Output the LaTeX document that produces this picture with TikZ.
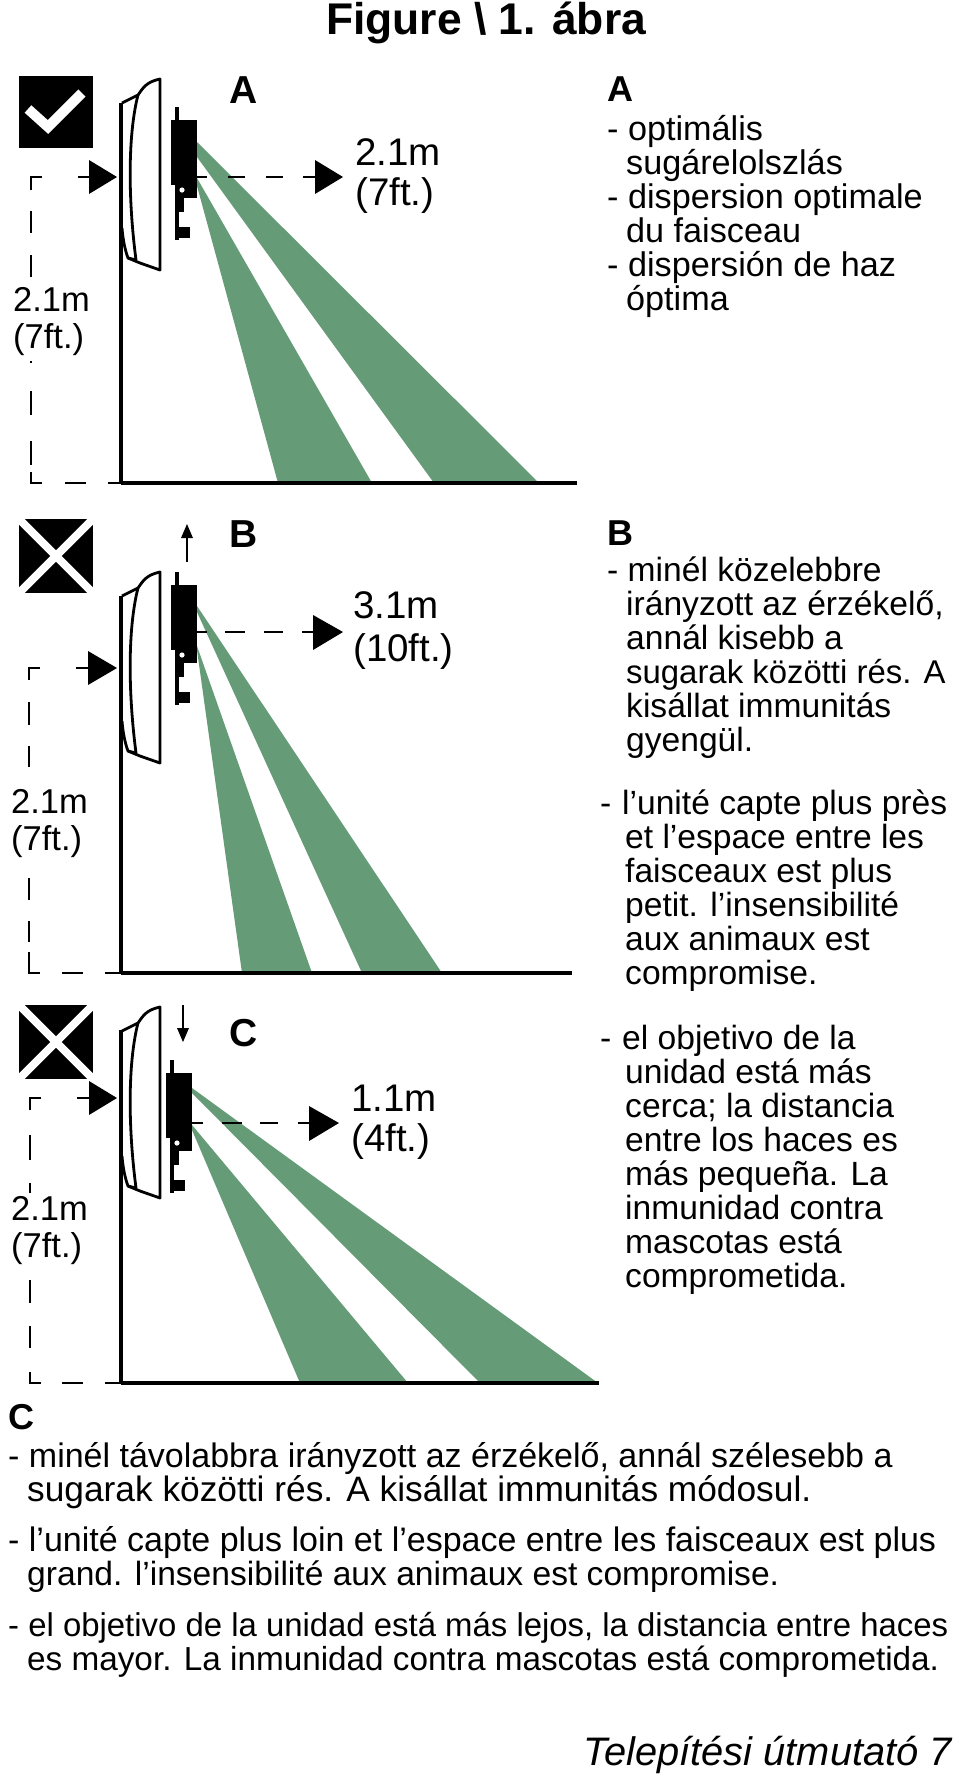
\documentclass[tikz,border=0pt]{standalone}
\usepackage{fontspec}
\setmainfont{Liberation Sans}
\definecolor{beam}{HTML}{659B77}
\newcommand{\hg}{\hspace*{19pt}}
\newcommand{\hgg}{\hspace*{25pt}}
\newcommand{\dsh}{\makebox[22pt][l]{-}}
\newcommand{\fsz}[1]{\fontsize{#1}{34}\selectfont}
\tikzset{
  body/.style={font=\fontsize{33.6}{34}\selectfont, anchor=north west, inner sep=0pt, align=left},
  head/.style={font=\fontsize{36}{38}\selectfont\bfseries, anchor=west, inner sep=0pt},
  letter/.style={font=\fontsize{39}{40}\selectfont\bfseries, anchor=center, inner sep=0pt},
  dim/.style={font=\fontsize{38.5}{40}\selectfont, anchor=west, inner sep=0pt, align=left},
  dimsmall/.style={font=\fontsize{34.5}{37}\selectfont, anchor=west, inner sep=0pt, align=left},
  dashln/.style={line width=2.8pt},
  wall/.style={line width=3.8pt},
  hous/.style={line width=2.8pt, line join=round},
  tri/.style={fill=black},
}
\newcommand{\housing}[1]{%
  \begin{scope}[yshift=-#1pt]
    \draw[hous] (122,103) -- (138,95) .. controls (143,88) and (146,82) .. (160,79) -- (160,270) -- (140,263) -- (128,258);
    \draw[hous] (138,95) .. controls (129,130) and (127,190) .. (136,260);
    \draw[hous] (122,228) .. controls (123,240) and (125,250) .. (128,258) -- (136,260);
  \end{scope}}
\newcommand{\sensor}[2]{%
  \begin{scope}[xshift=#1pt,yshift=-#2pt]
    \fill (171,120) rectangle (197,185);
    \fill (178,185) rectangle (197,198);
    \fill (175,107) rectangle (179,240);
    \fill (178,198) rectangle (184,212);
    \fill (178,227) rectangle (190,238);
    \fill[white] (182,190) circle (2.6pt);
  \end{scope}}
\newcommand{\crossbox}[1]{%
  \begin{scope}[yshift=-#1pt]
    \fill (19,0) rectangle (93,74);
    \begin{scope}
      \clip (19,0) rectangle (93,74);
      \draw[white,line width=8pt] (19,0) -- (93,74) (93,0) -- (19,74);
    \end{scope}
  \end{scope}}
\begin{document}
\begin{tikzpicture}[x=1pt,y=-1pt]
\useasboundingbox (0,0) rectangle (960,1778);
\fill[white] (0,0) rectangle (960,1778);

\node[font=\fontsize{44.4}{48}\selectfont\bfseries, inner sep=0pt] (title) at (486,23) {Figure \textbackslash\ 1. ábra};

% ---------- Panel A ----------
\fill (19,76) rectangle (93,148);
\draw[white,line width=10pt,line join=miter] (28,109) -- (48,127) -- (82,93);
\fill[beam] (197,178) -- (372,483) -- (278,483) -- (197,186) -- cycle;
\fill[beam] (197,142) -- (197,157) -- (434,483) -- (539,483) -- cycle;
\housing{0}
\sensor{0}{0}
\draw[wall] (121,103) -- (121,483);
\draw[wall] (121,483) -- (577,483);
\coordinate (a1) at (117,177); \coordinate (a2) at (343,177);
\fill[tri] (a1) -- (89,160) -- (89,194) -- cycle;
\draw[dashln] (78,177) -- (89,177);
\fill[tri] (a2) -- (315,160) -- (315,194) -- cycle;
\draw[dashln] (197,177) -- (207,177) (228,177) -- (245,177) (266,177) -- (283,177) (303,177) -- (315,177);
\draw[dashln] (42,177) -- (31,177) -- (31,190) (31,211) -- (31,233) (31,255) -- (31,277)
  (31,361) -- (31,363) (31,391) -- (31,415) (31,441) -- (31,465) (31,472) -- (31,483) -- (42,483) (65,483) -- (86,483) (108,483) -- (121,483);
\node[letter] (la) at (244,90) {A};
\node[dim] (da) at (355,176) {2.1m\\(7ft.)};
\node[dimsmall] (ha) at (13,322) {2.1m\\(7ft.)};
\node[head] (hda) at (607,89) {A};
\node[body,font=\fontsize{34.2}{34}\selectfont] (ta) at (607,115) {- optimális\\\hg sugárelolszlás\\- dispersion optimale\\\hg du faisceau\\- dispersión de haz\\\hg óptima};

% ---------- Panel B ----------
\crossbox{519}
\fill[beam] (197,646) -- (312,973) -- (242,973) -- (197,650) -- cycle;
\fill[beam] (197,606) -- (197,612) -- (362,973) -- (442,973) -- cycle;
\housing{493}
\sensor{0}{465}
\draw[wall] (121,596) -- (121,973);
\draw[wall] (121,973) -- (572,973);
\draw[line width=2.4pt] (187,562) -- (187,535);
\fill (187,524) -- (181,538) -- (193,538) -- cycle;
\coordinate (b1) at (117,668); \coordinate (b2) at (343,632);
\fill[tri] (b1) -- (88,651) -- (88,685) -- cycle;
\draw[dashln] (76,668) -- (88,668);
\fill[tri] (b2) -- (313,615) -- (313,650) -- cycle;
\draw[dashln] (197,632) -- (207,632) (225,632) -- (245,632) (264,632) -- (283,632) (302,632) -- (313,632);
\draw[dashln] (40,668) -- (29,668) -- (29,680) (29,702) -- (29,725) (29,746) -- (29,767)
  (29,878) -- (29,900) (29,921) -- (29,942) (29,952) -- (29,973) -- (40,973) (62,973) -- (83,973) (105,973) -- (121,973);
\node[letter] (lb) at (244,534) {B};
\node[dim] (db) at (353,631) {3.1m\\[3pt](10ft.)};
\node[dimsmall] (hb) at (11,824) {2.1m\\(7ft.)};
\node[head] (hdb) at (607,533) {B};
\node[body] (tb) at (607,557) {- minél közelebbre\\\hg irányzott az érzékelő,\\\hg annál kisebb a\\\hg \fsz{32.9}sugarak közötti rés. A\\\hg kisállat immunitás\\\hg gyengül.};
\node[body] (tb2) at (600,790) {\dsh l’unité capte plus près\\\hgg et l’espace entre les\\\hgg faisceaux est plus\\\hgg petit. l’insensibilité\\\hgg aux animaux est\\\hgg compromise.};
\node[body] (tb3) at (600,1025) {\dsh el objetivo de la\\\hgg unidad está más\\\hgg cerca; la distancia\\\hgg entre los haces es\\\hgg más pequeña. La\\\hgg inmunidad contra\\\hgg mascotas está\\\hgg comprometida.};

% ---------- Panel C ----------
\crossbox{1005}
\fill[beam] (192,1125) -- (408,1383) -- (300,1383) -- (192,1130) -- cycle;
\fill[beam] (192,1088) -- (192,1093) -- (480,1383) -- (598,1383) -- cycle;
\housing{928}
\sensor{-5}{953}
\draw[wall] (121,1030) -- (121,1383);
\draw[wall] (121,1383) -- (599,1383);
\draw[line width=2.4pt] (183,1005) -- (183,1030);
\fill (183,1042) -- (177,1028) -- (189,1028) -- cycle;
\coordinate (c1) at (117,1098); \coordinate (c2) at (339,1123);
\fill[tri] (c1) -- (89,1081) -- (89,1115) -- cycle;
\draw[dashln] (77,1098) -- (89,1098);
\fill[tri] (c2) -- (309,1106) -- (309,1141) -- cycle;
\draw[dashln] (192,1123) -- (203,1123) (222,1123) -- (242,1123) (260,1123) -- (278,1123) (298,1123) -- (309,1123);
\draw[dashln] (41,1098) -- (30,1098) -- (30,1110) (30,1135) -- (30,1160) (30,1183) -- (30,1193)
  (30,1280) -- (30,1303) (30,1326) -- (30,1348) (30,1372) -- (30,1383) -- (41,1383) (62,1383) -- (83,1383) (105,1383) -- (121,1383);
\node[letter] (lc) at (244,1033) {C};
\node[dim] (dc) at (351,1122) {1.1m\\(4ft.)};
\node[dimsmall] (hc) at (11,1231) {2.1m\\(7ft.)};

% ---------- Bottom text ----------
\node[head] (tc) at (8,1417) {C};
\node[body] (tc1) at (8,1442) {\fsz{34}- minél távolabbra irányzott az érzékelő, annál szélesebb a\\\hg \fsz{35.3}sugarak közötti rés. A kisállat immunitás módosul.};
\node[body] (tc2) at (8,1526) {\fsz{34}- l’unité capte plus loin et l’espace entre les faisceaux est plus\\\hg grand. l’insensibilité aux animaux est compromise.};
\node[body] (tc3) at (8,1612) {\fsz{32.9}- el objetivo de la unidad está más lejos, la distancia entre haces\\\hg \fsz{33.3}es mayor. La inmunidad contra mascotas está comprometida.};
\node[font=\fontsize{39.8}{42}\selectfont\itshape, anchor=east, inner sep=0pt] (foot) at (952,1755) {Telepítési útmutató 7};
\end{tikzpicture}
\end{document}
